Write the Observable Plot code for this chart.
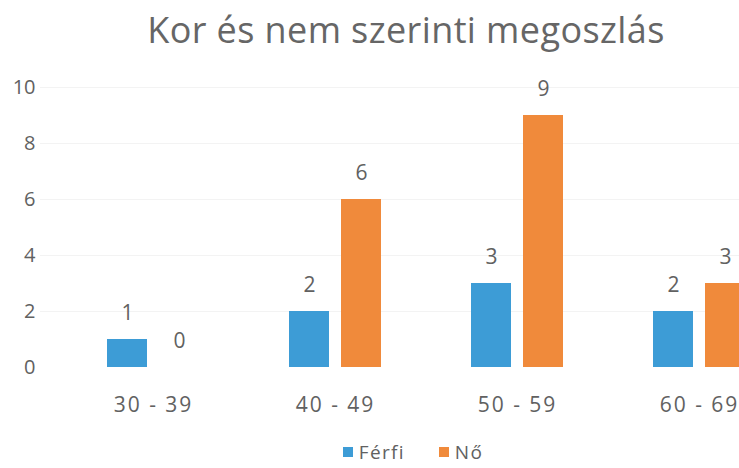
<!DOCTYPE html>
<html>
<head>
<meta charset="utf-8">
<script src="https://cdn.jsdelivr.net/npm/d3@7"></script>
<script src="https://cdn.jsdelivr.net/npm/@observablehq/plot@0.6"></script>
<style>
  html, body { margin: 0; padding: 0; background: #fff; width: 739px; height: 468px; overflow: hidden; }
  body { font-family: "Open Sans", sans-serif; color: #616161; }
  #title { height: 62px; line-height: 60px; font-size: 36px; width: 812px; text-align: center; white-space: nowrap; letter-spacing: 0.4px; color: #666; }
  #legend { height: 46px; width: 826px; display: flex; justify-content: center; align-items: center; gap: 34px; font-size: 19px; line-height: 20px; letter-spacing: 1.3px; padding-top: 14px; box-sizing: border-box; }
  .item { display: flex; align-items: center; gap: 6px; }
  .sw { width: 10px; height: 10px; display: inline-block; }
  #chart svg g[aria-label="x-axis tick label"] text { letter-spacing: 2px; }
</style>
</head>
<body>
<div id="title">Kor és nem szerinti megoszlás</div>
<div id="chart"></div>
<div id="legend"></div>
<script>
const groups = ["30 - 39", "40 - 49", "50 - 59", "60 - 69"];
const sexes = ["Férfi", "Nő"];
const ferfi = [1, 2, 3, 2];
const no = [0, 6, 9, 3];
const yTicks = [0, 2, 4, 6, 8, 10];
const colors = ["#3d9cd6", "#f08a3b"];

const ferfiData = groups.map((g, i) => ({group: g, sex: sexes[0], value: ferfi[i]}));
const noData = groups.map((g, i) => ({group: g, sex: sexes[1], value: no[i]}));

const chart = Plot.plot({
  width: 739,
  height: 360,
  marginTop: 25,
  marginBottom: 55,
  marginLeft: 40,
  marginRight: 0,
  style: {fontFamily: "Open Sans, sans-serif", fontSize: "20px", color: "#616161", background: "#fff", overflow: "hidden"},
  x: {domain: groups, range: [62, 790], padding: 0, label: null, tickSize: 0, tickPadding: 30},
  y: {domain: [0, 10], ticks: yTicks, tickSize: 0, tickPadding: 5, label: null},
  color: {domain: sexes, range: colors},
  marks: [
    Plot.ruleY(yTicks.filter(v => v > 0), {stroke: "#f3f3f3", strokeWidth: 1}),
    Plot.barY(ferfiData, {x: "group", y: "value", fill: "sex", insetLeft: 45, insetRight: 97}),
    Plot.barY(noData, {x: "group", y: "value", fill: "sex", insetLeft: 97, insetRight: 45}),
    Plot.text(ferfiData, {x: "group", y: "value", text: d => String(d.value), dx: -26, dy: -26, fill: "#616161", fontSize: 21}),
    Plot.text(noData, {x: "group", y: "value", text: d => String(d.value), dx: 26, dy: -26, fill: "#616161", fontSize: 21})
  ]
});
chart.querySelectorAll('g[aria-label="x-axis tick label"]').forEach(g => g.setAttribute("font-size", 21));
document.getElementById("chart").appendChild(chart);

const legend = document.getElementById("legend");
sexes.forEach((s, i) => {
  const it = document.createElement("span");
  it.className = "item";
  it.innerHTML = `<span class="sw" style="background:${colors[i]}"></span><span>${s}</span>`;
  legend.appendChild(it);
});
</script>
</body>
</html>
